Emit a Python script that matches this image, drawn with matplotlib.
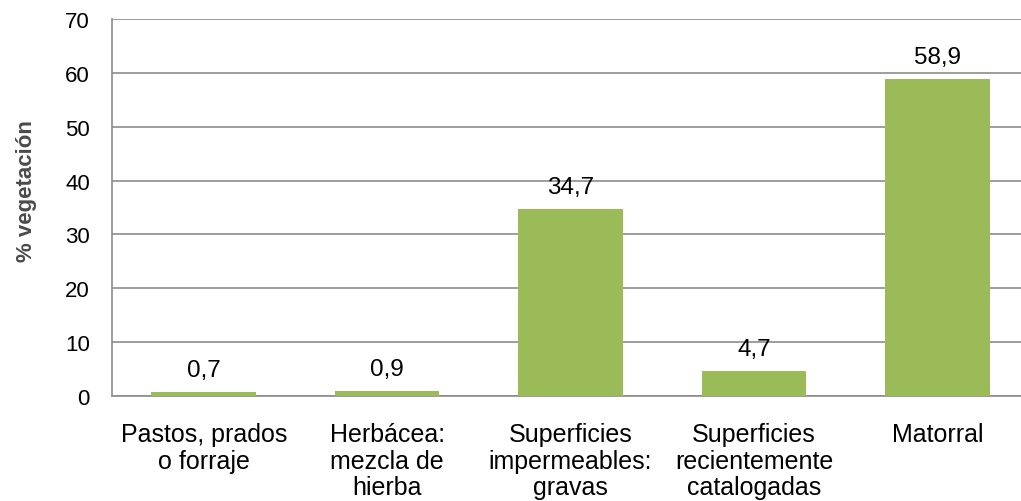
import matplotlib
matplotlib.use('Agg')
import matplotlib.pyplot as plt
import numpy as np

# Datos del gráfico
categorias = ['Pastos, prados\no forraje', 'Herbácea:\nmezcla de\nhierba',
              'Superficies\nimpermeables:\ngravas', 'Superficies\nrecientemente\ncatalogadas',
              'Matorral']
valores = [0.7, 0.9, 34.7, 4.7, 58.9]
etiquetas = ['0,7', '0,9', '34,7', '4,7', '58,9']
yticks = [0, 10, 20, 30, 40, 50, 60, 70]

plt.rcParams['font.family'] = ['Liberation Sans', 'DejaVu Sans']

fig = plt.figure(figsize=(10.21, 5.02), dpi=100)
ax = fig.add_axes([112/1021, 1 - 397/502, 917/1021, 377/502])

x = np.arange(len(categorias))
ax.bar(x, valores, width=0.57, color='#9BBB59', zorder=3)

for xi, v, t in zip(x, valores, etiquetas):
    ax.text(xi, v + 2.0, t, ha='center', va='bottom', fontsize=17.5)

ax.set_ylim(0, 70)
ax.set_xlim(-0.5, len(categorias) - 0.5)
ax.set_yticks(yticks)
ax.set_yticklabels([str(t) for t in yticks], fontsize=16)
ax.set_xticks(x)
ax.set_xticklabels(categorias, fontsize=18, linespacing=1.12, va='top')
ax.tick_params(axis='y', length=0, pad=16)
ax.tick_params(axis='x', length=0, pad=19)
ax.grid(axis='y', color='#8c8c8c', linewidth=1.2, zorder=0)

for s in ['top', 'right']:
    ax.spines[s].set_visible(False)
for s in ['left', 'bottom']:
    ax.spines[s].set_color('#8c8c8c')
    ax.spines[s].set_linewidth(1.2)

ax.set_ylabel('% vegetación', fontsize=16, fontweight='bold', color='#4a4a4a')
ax.yaxis.set_label_coords(-0.082, 0.546)

fig.savefig('out.png', dpi=100)
